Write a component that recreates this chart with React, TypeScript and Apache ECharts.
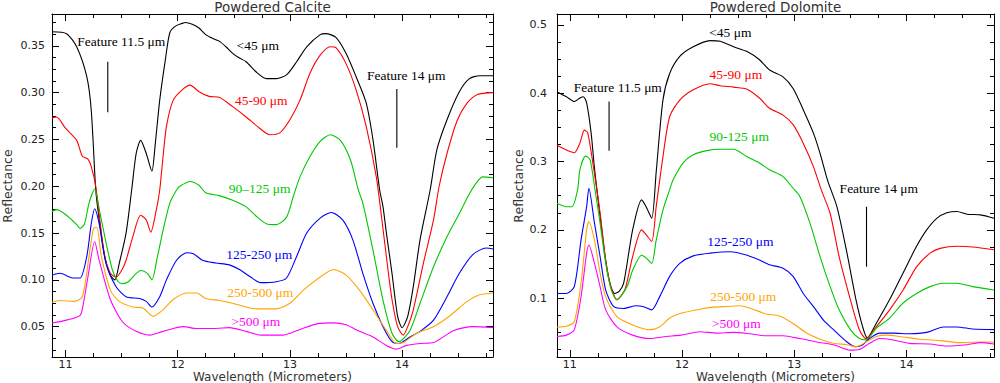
import React, { useEffect, useRef } from "react";
import * as echarts from "echarts";

type P = [number, number];

// ---------- Powdered Calcite (left panel) ----------
const calciteLt45: P[] = [[10.88,0.365],[11.01,0.363],[11.10,0.349],[11.19,0.317],[11.23,0.281],[11.27,0.196],[11.30,0.165],[11.35,0.125],[11.40,0.105],[11.44,0.100],[11.48,0.118],[11.54,0.150],[11.59,0.196],[11.63,0.235],[11.67,0.249],[11.72,0.235],[11.77,0.216],[11.80,0.245],[11.84,0.292],[11.89,0.335],[11.93,0.364],[11.98,0.371],[12.04,0.374],[12.07,0.375],[12.13,0.373],[12.19,0.369],[12.25,0.362],[12.31,0.358],[12.37,0.355],[12.43,0.349],[12.49,0.342],[12.55,0.337],[12.61,0.333],[12.70,0.322],[12.79,0.315],[12.88,0.315],[12.97,0.319],[13.06,0.333],[13.15,0.349],[13.27,0.362],[13.32,0.363],[13.41,0.359],[13.50,0.342],[13.59,0.317],[13.68,0.289],[13.74,0.250],[13.80,0.196],[13.83,0.178],[13.86,0.150],[13.91,0.107],[13.96,0.061],[14.00,0.049],[14.05,0.061],[14.10,0.093],[14.16,0.143],[14.25,0.196],[14.31,0.239],[14.40,0.271],[14.51,0.301],[14.60,0.315],[14.69,0.318],[14.81,0.318]];
const calcite45to90: P[] = [[10.88,0.273],[10.92,0.274],[11.00,0.262],[11.10,0.249],[11.15,0.232],[11.20,0.229],[11.23,0.221],[11.27,0.200],[11.30,0.170],[11.35,0.125],[11.40,0.107],[11.45,0.103],[11.50,0.110],[11.54,0.121],[11.60,0.146],[11.67,0.169],[11.72,0.164],[11.76,0.151],[11.81,0.175],[11.84,0.196],[11.87,0.232],[11.90,0.264],[11.96,0.292],[12.04,0.303],[12.11,0.308],[12.19,0.301],[12.28,0.296],[12.37,0.295],[12.49,0.285],[12.61,0.274],[12.73,0.262],[12.82,0.255],[12.91,0.257],[13.00,0.271],[13.09,0.292],[13.18,0.321],[13.27,0.340],[13.36,0.349],[13.41,0.348],[13.50,0.331],[13.59,0.303],[13.68,0.264],[13.77,0.210],[13.82,0.164],[13.87,0.115],[13.91,0.079],[13.96,0.050],[14.01,0.041],[14.05,0.050],[14.10,0.068],[14.19,0.118],[14.28,0.164],[14.33,0.200],[14.40,0.235],[14.49,0.270],[14.58,0.289],[14.67,0.298],[14.81,0.300]];
const calcite90to125: P[] = [[10.88,0.173],[10.92,0.175],[11.01,0.169],[11.10,0.159],[11.13,0.155],[11.17,0.160],[11.21,0.182],[11.26,0.197],[11.31,0.170],[11.37,0.135],[11.42,0.110],[11.47,0.098],[11.51,0.096],[11.56,0.098],[11.60,0.103],[11.67,0.110],[11.73,0.107],[11.77,0.100],[11.82,0.125],[11.87,0.153],[11.93,0.182],[11.99,0.196],[12.02,0.200],[12.11,0.205],[12.19,0.201],[12.25,0.193],[12.37,0.190],[12.49,0.185],[12.61,0.178],[12.70,0.168],[12.79,0.160],[12.88,0.159],[12.97,0.167],[13.03,0.189],[13.09,0.210],[13.18,0.232],[13.27,0.248],[13.36,0.255],[13.45,0.249],[13.54,0.228],[13.61,0.196],[13.65,0.182],[13.74,0.132],[13.83,0.078],[13.91,0.043],[13.97,0.034],[14.07,0.046],[14.16,0.075],[14.28,0.114],[14.40,0.146],[14.51,0.171],[14.60,0.192],[14.67,0.205],[14.72,0.210],[14.81,0.209]];
const calcite125to250: P[] = [[10.88,0.105],[10.95,0.107],[11.07,0.102],[11.13,0.102],[11.19,0.125],[11.23,0.160],[11.26,0.176],[11.30,0.160],[11.36,0.118],[11.45,0.093],[11.54,0.082],[11.66,0.080],[11.72,0.077],[11.77,0.071],[11.84,0.082],[11.90,0.100],[11.99,0.121],[12.08,0.129],[12.14,0.128],[12.22,0.121],[12.34,0.118],[12.46,0.116],[12.55,0.111],[12.65,0.103],[12.74,0.097],[12.88,0.098],[12.97,0.102],[13.06,0.125],[13.15,0.150],[13.27,0.166],[13.37,0.172],[13.47,0.164],[13.56,0.143],[13.65,0.107],[13.74,0.075],[13.83,0.050],[13.91,0.034],[13.97,0.032],[14.07,0.039],[14.16,0.045],[14.28,0.057],[14.40,0.082],[14.51,0.107],[14.63,0.127],[14.75,0.134],[14.81,0.133]];
const calcite250to500: P[] = [[10.88,0.076],[10.95,0.078],[11.07,0.077],[11.15,0.082],[11.21,0.125],[11.25,0.155],[11.28,0.156],[11.32,0.125],[11.40,0.089],[11.48,0.077],[11.60,0.071],[11.69,0.070],[11.78,0.061],[11.87,0.068],[11.96,0.079],[12.08,0.086],[12.17,0.086],[12.25,0.080],[12.37,0.078],[12.49,0.075],[12.61,0.071],[12.70,0.069],[12.88,0.069],[13.00,0.075],[13.12,0.089],[13.27,0.103],[13.39,0.111],[13.50,0.105],[13.62,0.089],[13.74,0.068],[13.86,0.046],[13.95,0.032],[14.01,0.033],[14.13,0.043],[14.28,0.050],[14.43,0.062],[14.58,0.077],[14.69,0.084],[14.81,0.086]];
const calciteGt500: P[] = [[10.88,0.054],[11.01,0.057],[11.13,0.062],[11.16,0.075],[11.20,0.103],[11.26,0.141],[11.30,0.121],[11.40,0.079],[11.51,0.055],[11.63,0.045],[11.75,0.041],[11.87,0.045],[12.05,0.050],[12.17,0.048],[12.34,0.048],[12.46,0.049],[12.61,0.045],[12.74,0.041],[12.94,0.041],[13.09,0.047],[13.24,0.053],[13.39,0.054],[13.50,0.052],[13.62,0.045],[13.74,0.039],[13.86,0.030],[13.95,0.026],[14.04,0.030],[14.16,0.032],[14.28,0.033],[14.46,0.046],[14.63,0.050],[14.81,0.049]];

// ---------- Powdered Dolomite (right panel) ----------
const dolomiteLt45: P[] = [[10.886,0.402],[10.97,0.395],[11.04,0.388],[11.09,0.393],[11.12,0.395],[11.15,0.386],[11.19,0.342],[11.22,0.290],[11.27,0.220],[11.32,0.155],[11.36,0.120],[11.40,0.107],[11.44,0.110],[11.48,0.122],[11.56,0.200],[11.64,0.244],[11.68,0.234],[11.73,0.217],[11.77,0.285],[11.83,0.390],[11.89,0.429],[11.98,0.454],[12.10,0.468],[12.25,0.477],[12.34,0.476],[12.46,0.468],[12.58,0.461],[12.69,0.449],[12.78,0.434],[12.90,0.424],[12.99,0.407],[13.08,0.376],[13.17,0.342],[13.23,0.312],[13.30,0.271],[13.38,0.234],[13.47,0.166],[13.55,0.098],[13.61,0.058],[13.65,0.042],[13.73,0.063],[13.85,0.098],[13.97,0.137],[14.09,0.176],[14.18,0.200],[14.27,0.217],[14.36,0.225],[14.45,0.227],[14.54,0.223],[14.66,0.222],[14.78,0.217]];
const dolomite45to90: P[] = [[10.886,0.324],[10.97,0.317],[11.04,0.313],[11.09,0.327],[11.13,0.346],[11.16,0.342],[11.21,0.293],[11.27,0.225],[11.32,0.156],[11.37,0.115],[11.42,0.098],[11.49,0.112],[11.56,0.161],[11.64,0.200],[11.68,0.193],[11.73,0.183],[11.77,0.234],[11.83,0.307],[11.89,0.366],[11.98,0.390],[12.10,0.405],[12.25,0.414],[12.34,0.411],[12.46,0.409],[12.58,0.406],[12.69,0.393],[12.78,0.378],[12.90,0.368],[12.99,0.354],[13.08,0.327],[13.17,0.293],[13.24,0.259],[13.32,0.224],[13.40,0.161],[13.50,0.098],[13.58,0.054],[13.64,0.041],[13.73,0.058],[13.85,0.083],[13.97,0.112],[14.09,0.146],[14.21,0.166],[14.30,0.173],[14.45,0.176],[14.59,0.175],[14.78,0.171]];
const dolomite90to125: P[] = [[10.886,0.239],[10.97,0.234],[11.02,0.234],[11.07,0.259],[11.09,0.288],[11.14,0.308],[11.18,0.303],[11.22,0.264],[11.27,0.210],[11.32,0.151],[11.37,0.112],[11.42,0.098],[11.51,0.117],[11.56,0.141],[11.64,0.163],[11.68,0.159],[11.73,0.151],[11.77,0.185],[11.83,0.229],[11.89,0.259],[11.92,0.273],[12.01,0.298],[12.10,0.310],[12.22,0.316],[12.34,0.318],[12.46,0.318],[12.58,0.307],[12.69,0.298],[12.78,0.288],[12.90,0.278],[12.99,0.261],[13.05,0.249],[13.14,0.210],[13.23,0.161],[13.32,0.117],[13.40,0.083],[13.50,0.054],[13.58,0.041],[13.64,0.039],[13.73,0.056],[13.85,0.071],[13.97,0.093],[14.09,0.107],[14.21,0.117],[14.33,0.122],[14.45,0.122],[14.59,0.117],[14.78,0.112]];
const dolomite125to250: P[] = [[10.886,0.107],[10.97,0.107],[11.04,0.117],[11.10,0.185],[11.15,0.234],[11.17,0.261],[11.22,0.210],[11.27,0.161],[11.32,0.112],[11.39,0.088],[11.48,0.085],[11.59,0.089],[11.65,0.088],[11.73,0.083],[11.80,0.102],[11.89,0.132],[11.98,0.151],[12.10,0.162],[12.25,0.166],[12.43,0.168],[12.58,0.163],[12.69,0.156],[12.78,0.149],[12.90,0.144],[12.99,0.132],[13.08,0.107],[13.17,0.088],[13.26,0.068],[13.35,0.054],[13.47,0.036],[13.55,0.029],[13.61,0.032],[13.67,0.041],[13.76,0.049],[13.88,0.049],[14.03,0.048],[14.18,0.050],[14.33,0.058],[14.45,0.058],[14.59,0.055],[14.78,0.054]];
const dolomite250to500: P[] = [[10.886,0.058],[10.97,0.059],[11.04,0.066],[11.10,0.122],[11.15,0.200],[11.17,0.212],[11.22,0.185],[11.27,0.137],[11.32,0.102],[11.42,0.073],[11.56,0.061],[11.71,0.054],[11.80,0.058],[11.89,0.071],[11.99,0.078],[12.16,0.084],[12.28,0.087],[12.40,0.088],[12.52,0.089],[12.63,0.084],[12.75,0.077],[12.87,0.074],[12.99,0.063],[13.11,0.049],[13.23,0.040],[13.35,0.034],[13.47,0.032],[13.55,0.029],[13.64,0.036],[13.73,0.044],[13.82,0.046],[13.94,0.044],[14.12,0.040],[14.30,0.038],[14.48,0.035],[14.66,0.036],[14.78,0.036]];
const dolomiteGt500: P[] = [[10.886,0.044],[10.97,0.046],[11.04,0.054],[11.10,0.102],[11.15,0.166],[11.17,0.178],[11.22,0.151],[11.27,0.117],[11.32,0.083],[11.42,0.058],[11.56,0.046],[11.71,0.041],[11.86,0.044],[11.99,0.046],[12.16,0.051],[12.31,0.049],[12.46,0.050],[12.60,0.048],[12.75,0.045],[12.90,0.045],[13.05,0.041],[13.20,0.036],[13.35,0.032],[13.50,0.024],[13.58,0.025],[13.67,0.034],[13.76,0.041],[13.88,0.039],[14.03,0.034],[14.21,0.033],[14.36,0.030],[14.54,0.032],[14.66,0.035],[14.78,0.033]];

// ---------- ticks ----------
const wavelengthTicks = [11, 12, 13, 14];
const wavelengthMinorTicks = [11.25, 11.5, 11.75, 12.25, 12.5, 12.75, 13.25, 13.5, 13.75, 14.25, 14.5, 14.75];
const calciteTicks = [0.05, 0.1, 0.15, 0.2, 0.25, 0.3, 0.35];
const dolomiteTicks = [0.1, 0.2, 0.3, 0.4, 0.5];

// ---------- annotations ----------
const calciteNotes = [
  { text: "Feature 11.5 μm", w: 11.497, r: 0.355, color: "#000000" },
  { text: "<45 μm", w: 12.714, r: 0.350, color: "#000000" },
  { text: "45-90 μm", w: 12.745, r: 0.292, color: "#ff0000" },
  { text: "90–125 μm", w: 12.73, r: 0.198, color: "#00c800" },
  { text: "Feature 14 μm", w: 14.037, r: 0.318, color: "#000000" },
  { text: "125-250 μm", w: 12.727, r: 0.127, color: "#0000ff" },
  { text: "250-500 μm", w: 12.736, r: 0.087, color: "#ffa500" },
  { text: ">500 μm", w: 12.696, r: 0.055, color: "#ff00ff" },
];
const dolomiteNotes = [
  { text: "Feature 11.5 μm", w: 11.428, r: 0.409, color: "#000000" },
  { text: "<45 μm", w: 12.43, r: 0.489, color: "#000000" },
  { text: "45-90 μm", w: 12.48, r: 0.428, color: "#ff0000" },
  { text: "90-125 μm", w: 12.51, r: 0.337, color: "#00c800" },
  { text: "Feature 14 μm", w: 13.754, r: 0.261, color: "#000000" },
  { text: "125-250 μm", w: 12.52, r: 0.183, color: "#0000ff" },
  { text: "250-500 μm", w: 12.546, r: 0.102, color: "#ffa500" },
  { text: ">500 μm", w: 12.484, r: 0.063, color: "#ff00ff" },
];
const calciteMarkers: P[][] = [[[11.377, 0.279], [11.377, 0.333]], [[13.953, 0.241], [13.953, 0.304]]];
const dolomiteMarkers: P[][] = [[[11.35, 0.316], [11.35, 0.388]], [[13.644, 0.146], [13.644, 0.234]]];

const COLORS = ["#000000", "#ff0000", "#00c800", "#0000ff", "#ffa500", "#ff00ff"];

function minorTicks(start: number, end: number, step: number): number[] {
  const out: number[] = [];
  for (let v = start; v <= end + 1e-9; v += step) out.push(Math.round(v * 10000) / 10000);
  return out;
}

const panels = [
  {
    title: "Powdered Calcite",
    grid: { left: 52, top: 14, width: 441, height: 343 },
    xMin: 10.88, xMax: 14.81, yMin: 0.0176, yMax: 0.384,
    yTicks: calciteTicks, yMinor: minorTicks(0.025, 0.375, 0.0125), yDec: 2, yMargin: 7,
    series: [calciteLt45, calcite45to90, calcite90to125, calcite125to250, calcite250to500, calciteGt500],
    markers: calciteMarkers, notes: calciteNotes, nameX: 7,
  },
  {
    title: "Powdered Dolomite",
    grid: { left: 557, top: 14, width: 437, height: 343 },
    xMin: 10.886, xMax: 14.78, yMin: 0.014, yMax: 0.516,
    yTicks: dolomiteTicks, yMinor: minorTicks(0.025, 0.5, 0.025), yDec: 1, yMargin: 10,
    series: [dolomiteLt45, dolomite45to90, dolomite90to125, dolomite125to250, dolomite250to500, dolomiteGt500],
    markers: dolomiteMarkers, notes: dolomiteNotes, nameX: 518,
  },
];

const TICK_FONT = "DejaVu Sans";

function buildOption() {
  const xAxis: any[] = [];
  const yAxis: any[] = [];
  const series: any[] = [];
  panels.forEach((p, g) => {
    const xDefs = [
      { pos: "bottom", line: true, len: 7, vals: wavelengthTicks, label: true },
      { pos: "bottom", line: false, len: 4, vals: wavelengthMinorTicks, label: false },
      { pos: "top", line: true, len: 7, vals: wavelengthTicks, label: false },
      { pos: "top", line: false, len: 4, vals: wavelengthMinorTicks, label: false },
    ];
    xDefs.forEach((d) => {
      xAxis.push({
        type: "value", gridIndex: g, position: d.pos, min: p.xMin, max: p.xMax,
        axisLine: { show: d.line, onZero: false, lineStyle: { color: "#000", width: 1 } },
        axisTick: { show: true, inside: true, length: d.len, customValues: d.vals, lineStyle: { color: "#000", width: 1 } },
        axisLabel: d.label
          ? { show: true, customValues: d.vals, margin: 2, lineHeight: 11, color: "#222", fontFamily: TICK_FONT, fontSize: 11, formatter: (v: number) => String(Math.round(v)) }
          : { show: false },
        splitLine: { show: false },
      });
    });
    const yDefs = [
      { pos: "left", line: true, len: 7, vals: p.yTicks, label: true },
      { pos: "left", line: false, len: 4, vals: p.yMinor, label: false },
      { pos: "right", line: true, len: 7, vals: p.yTicks, label: false },
      { pos: "right", line: false, len: 4, vals: p.yMinor, label: false },
    ];
    yDefs.forEach((d) => {
      yAxis.push({
        type: "value", gridIndex: g, position: d.pos, min: p.yMin, max: p.yMax,
        axisLine: { show: d.line, onZero: false, lineStyle: { color: "#000", width: 1 } },
        axisTick: { show: true, inside: true, length: d.len, customValues: d.vals, lineStyle: { color: "#000", width: 1 } },
        axisLabel: d.label
          ? { show: true, customValues: d.vals, margin: p.yMargin, color: "#222", fontFamily: TICK_FONT, fontSize: 11, formatter: (v: number) => v.toFixed(p.yDec) }
          : { show: false },
        splitLine: { show: false },
      });
    });
    p.series.forEach((data, i) => {
      series.push({
        type: "line", xAxisIndex: 4 * g, yAxisIndex: 4 * g, data, showSymbol: false, symbol: "none",
        smooth: 0.25, lineStyle: { color: COLORS[i], width: 1.1 }, silent: true, z: 3,
      });
    });
    p.markers.forEach((m) => {
      series.push({
        type: "line", xAxisIndex: 4 * g, yAxisIndex: 4 * g, data: m, symbol: "none",
        lineStyle: { color: "#000", width: 1.1 }, silent: true, z: 3,
      });
    });
  });
  return {
    animation: false,
    backgroundColor: "#ffffff",
    grid: panels.map((p) => ({ ...p.grid, containLabel: false })),
    xAxis, yAxis, series,
  };
}

function txt(text: string, x: number, y: number, font: string, fill: string, rotation = 0, lineHeight?: number) {
  const style: any = { text, font, fill, align: "center", verticalAlign: "middle", textAlign: "center", textVerticalAlign: "middle" };
  if (lineHeight) style.lineHeight = lineHeight;
  return { type: "text", x, y, rotation, silent: true, z: 10, style };
}

export default function App() {
  const ref = useRef<HTMLDivElement>(null);
  useEffect(() => {
    const chart = echarts.init(ref.current!, null, { renderer: "svg" });
    chart.setOption(buildOption() as any);
    const graphic: any[] = [];
    panels.forEach((p, g) => {
      const cx = p.grid.left + p.grid.width / 2;
      graphic.push(txt(p.title, cx, 7, '13.5px "DejaVu Sans"', "#333"));
      graphic.push(txt("Wavelength (Micrometers)", cx, 376.5, '12px "DejaVu Sans"', "#333", 0, 12));
      graphic.push(txt("Reflectance", p.nameX, 186, '12.5px "DejaVu Sans"', "#333", Math.PI / 2));
      p.notes.forEach((n) => {
        const pt = chart.convertToPixel({ xAxisIndex: 4 * g, yAxisIndex: 4 * g } as any, [n.w, n.r]) as number[];
        graphic.push(txt(n.text, pt[0], pt[1], '13.5px "Liberation Serif"', n.color));
      });
    });
    chart.setOption({ graphic } as any);
    return () => chart.dispose();
  }, []);
  return <div ref={ref} style={{ position: "absolute", left: 0, top: 0, width: 1000, height: 383 }} />;
}
